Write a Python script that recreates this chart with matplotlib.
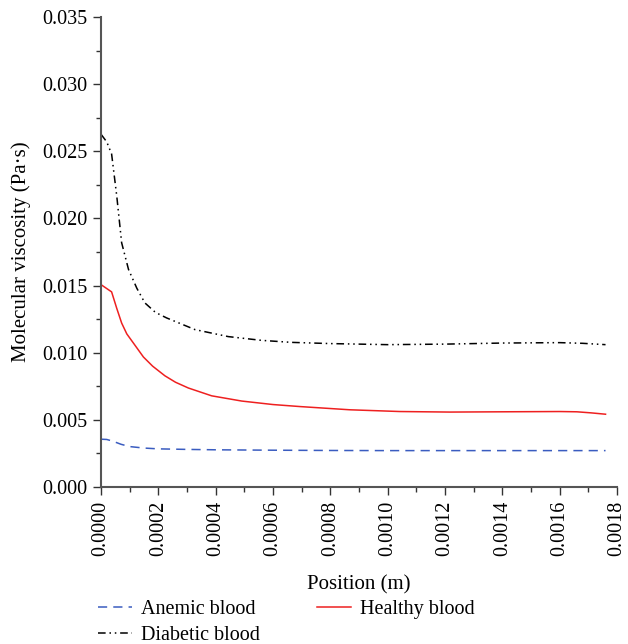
import matplotlib
matplotlib.use("Agg")
import matplotlib.pyplot as plt
from matplotlib.ticker import MultipleLocator, FormatStrFormatter

plt.rcParams['font.family'] = ['Liberation Serif', 'DejaVu Serif']

# Data
x_anemic = [0.0, 0.00002, 0.00004, 0.00007, 0.0001, 0.00015, 0.0002, 0.0003, 0.0004,
            0.0006, 0.0008, 0.0010, 0.0012, 0.0014, 0.0016, 0.00176]
y_anemic = [0.00356, 0.00354, 0.00342, 0.00318, 0.00301, 0.00290, 0.00284, 0.00280,
            0.00277, 0.00274, 0.00272, 0.00271, 0.00271, 0.00271, 0.00271, 0.00271]

x_healthy = [0.0, 0.000037, 0.000055, 0.000072, 0.00009, 0.000113, 0.000148, 0.00018,
             0.000223, 0.00026, 0.000305, 0.000386, 0.000491, 0.000600, 0.000694,
             0.000868, 0.001043, 0.001217, 0.0014, 0.0016, 0.00166, 0.00171, 0.00176]
y_healthy = [0.01507, 0.01453, 0.01330, 0.01221, 0.01140, 0.01072, 0.00968, 0.00900,
             0.00828, 0.00780, 0.00737, 0.00679, 0.00640, 0.00614, 0.00599,
             0.00575, 0.00562, 0.00558, 0.00560, 0.00562, 0.00560, 0.00552, 0.00542]

x_diabetic = [0.0, 0.00002, 0.000037, 0.000055, 0.000072, 0.000096, 0.000125, 0.000153,
              0.00019, 0.000229, 0.000328, 0.000444, 0.00056, 0.000665, 0.0008,
              0.0010, 0.0012, 0.0014, 0.0016, 0.00168, 0.00176]
y_diabetic = [0.02627, 0.02570, 0.02480, 0.02166, 0.01819, 0.01620, 0.01480, 0.01371,
              0.01300, 0.01259, 0.01172, 0.01120, 0.01092, 0.01077, 0.01068,
              0.01060, 0.01064, 0.01072, 0.01075, 0.01070, 0.01060]

fig = plt.figure(figsize=(6.28, 6.44), dpi=100)
ax = fig.add_axes([101/628, 1 - 487/644, (617-101)/628, (487-17)/644])

l1, = ax.plot(x_anemic, y_anemic, color='#3a5cc0', lw=1.1, dashes=(6, 4), label='Anemic blood')
l2, = ax.plot(x_healthy, y_healthy, color='#ee2020', lw=1.1, label='Healthy blood')
l3, = ax.plot(x_diabetic, y_diabetic, color='black', lw=1.1,
              dashes=(5, 2.5, 1, 2.5, 1, 2.5), label='Diabetic blood')

ax.set_xlim(0, 0.0018)
ax.set_ylim(0, 0.035)
ax.xaxis.set_major_locator(MultipleLocator(0.0002))
ax.xaxis.set_minor_locator(MultipleLocator(0.0001))
ax.yaxis.set_major_locator(MultipleLocator(0.005))
ax.yaxis.set_minor_locator(MultipleLocator(0.0025))
ax.xaxis.set_major_formatter(FormatStrFormatter('%.4f'))
ax.yaxis.set_major_formatter(FormatStrFormatter('%.3f'))

for s in ['top', 'right']:
    ax.spines[s].set_visible(False)
for s in ['left', 'bottom']:
    ax.spines[s].set_color('#555555')
    ax.spines[s].set_linewidth(1.5)

ax.tick_params(which='major', direction='out', length=6, width=1, color='#333333',
               labelsize=14.5, pad=4)
ax.tick_params(which='minor', direction='out', length=3.5, width=1, color='#333333')
plt.setp(ax.get_xticklabels(), rotation=90)

ax.set_xlabel('Position (m)', fontsize=15, labelpad=14)
ax.set_ylabel('Molecular viscosity (Pa·s)', fontsize=15, labelpad=8)

fig.legend(handles=[l1, l3, l2], ncol=2, loc='upper left',
           bbox_to_anchor=(98/628, 1 - 600/644), frameon=False, fontsize=14.5,
           handlelength=1.7, handletextpad=0.45, columnspacing=2.8,
           labelspacing=0.35, borderaxespad=0, borderpad=0)

fig.savefig('out.png', dpi=100)
